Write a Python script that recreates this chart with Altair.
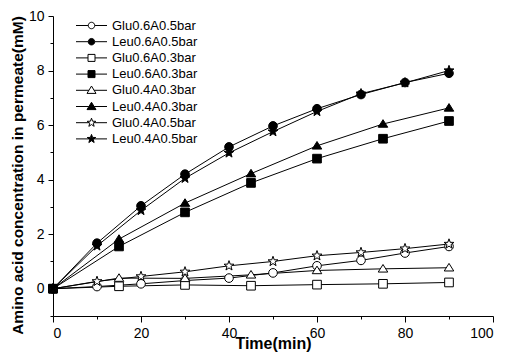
import math
import altair as alt
import pandas as pd

# ---- data ----
series_names = ["Glu0.6A0.5bar", "Leu0.6A0.5bar", "Glu0.6A0.3bar", "Leu0.6A0.3bar",
                "Glu0.4A0.3bar", "Leu0.4A0.3bar", "Glu0.4A0.5bar", "Leu0.4A0.5bar"]
time_10 = [0, 10, 20, 30, 40, 50, 60, 70, 80, 90]
time_15 = [0, 15, 30, 45, 60, 75, 90]

glu06_05 = [0, 0.08, 0.18, 0.30, 0.39, 0.58, 0.84, 1.04, 1.31, 1.55]
leu06_05 = [0, 1.67, 3.04, 4.20, 5.20, 5.97, 6.60, 7.12, 7.56, 7.90]
glu06_03 = [0, 0.09, 0.14, 0.11, 0.15, 0.18, 0.23]
leu06_03 = [0, 1.55, 2.80, 3.88, 4.77, 5.50, 6.15]
glu04_03 = [0, 0.39, 0.38, 0.51, 0.67, 0.73, 0.77]
leu04_03 = [0, 1.82, 3.14, 4.22, 5.24, 6.04, 6.63]
glu04_05 = [0, 0.27, 0.45, 0.62, 0.84, 1.00, 1.21, 1.33, 1.47, 1.64]
leu04_05 = [0, 1.57, 2.87, 4.05, 4.98, 5.76, 6.50, 7.15, 7.55, 8.00]

series_values = [glu06_05, leu06_05, glu06_03, leu06_03, glu04_03, leu04_03, glu04_05, leu04_05]
series_times = [time_10, time_10, time_15, time_15, time_15, time_15, time_10, time_10]

rows = []
for name, xs, ys in zip(series_names, series_times, series_values):
    for xv, yv in zip(xs, ys):
        rows.append({"series": name, "time": xv, "conc": yv})
df = pd.DataFrame(rows)

FONT = "Liberation Sans"


def star_path(ro, ri):
    pts = []
    for k in range(10):
        a = math.radians(-90 + 36 * k)
        r = ro if k % 2 == 0 else ri
        pts.append(f"{r*math.cos(a):.3f},{r*math.sin(a):.3f}")
    return "M" + "L".join(pts) + "Z"


def with_line(marker, gap):
    return f"M-3.1,0H{-gap}M{gap},0H3.1" + marker


star_plot = star_path(1.2, 0.48)
tri_plot = "M0,-1.0L1.1,0.75L-1.1,0.75Z"
plot_shapes = ["circle", "circle", "square", "square", tri_plot, tri_plot, star_plot, star_plot]
fills = ["white", "black"] * 4
strokes = ["black"] * 8

circ = "M0.65,0A0.65,0.65,0,1,1,-0.65,0A0.65,0.65,0,1,1,0.65,0Z"
sq = "M-0.7,-0.7H0.7V0.7H-0.7Z"
tri = "M0,-0.85L0.9,0.62L-0.9,0.62Z"
st = star_path(0.9, 0.37)
legend_shapes = [with_line(circ, 0.65), with_line(circ, 0.65),
                 with_line(sq, 0.7), with_line(sq, 0.7),
                 with_line(tri, 0.52), with_line(tri, 0.52),
                 with_line(st, 0.42), with_line(st, 0.42)]

x_scale = alt.Scale(domain=[0, 100], nice=False)
y_scale = alt.Scale(domain=[-1, 10], nice=False, zero=False)

main_x_axis = alt.Axis(values=[0, 20, 40, 60, 80, 100], title="Time(min)", grid=False,
                       tickSize=6, labelPadding=4, titleY=19, titleFontSize=16)
main_y_axis = alt.Axis(values=[0, 2, 4, 6, 8, 10], title="Amino acid concentration in permeate(mM)",
                       grid=False, tickSize=5, labelPadding=4, titleX=-28, titleY=159,
                       titleFontSize=15.5)

lines = alt.Chart(df).mark_line(color="black", strokeWidth=1).encode(
    x=alt.X("time:Q", scale=x_scale, axis=main_x_axis),
    y=alt.Y("conc:Q", scale=y_scale, axis=main_y_axis),
    detail="series:N",
    order="time:Q",
)

points = alt.Chart(df).mark_point(filled=True, size=75, stroke="black", strokeWidth=1, opacity=1).encode(
    x=alt.X("time:Q", scale=x_scale, axis=None),
    y=alt.Y("conc:Q", scale=y_scale, axis=None),
    shape=alt.Shape("series:N", scale=alt.Scale(domain=series_names, range=plot_shapes), legend=None),
    fill=alt.Fill("series:N", scale=alt.Scale(domain=series_names, range=fills), legend=None),
)

leg = alt.Legend(orient="none", legendX=32, legendY=3, title=None, labelFont=FONT, labelFontSize=13,
                 labelColor="black", labelOffset=14, symbolSize=100, symbolStrokeWidth=1,
                 rowPadding=2.2, padding=0)

legend_layer = alt.Chart(df).transform_filter("false").mark_point(
    filled=False, size=100, strokeWidth=1, opacity=1).encode(
    x=alt.X("time:Q", scale=x_scale, axis=None),
    y=alt.Y("conc:Q", scale=y_scale, axis=None),
    shape=alt.Shape("series:N", scale=alt.Scale(domain=series_names, range=legend_shapes), legend=leg),
    fill=alt.Fill("series:N", scale=alt.Scale(domain=series_names, range=fills), legend=leg),
    stroke=alt.Stroke("series:N", scale=alt.Scale(domain=series_names, range=strokes), legend=leg),
)

minor = alt.Chart(df).mark_point(opacity=0).encode(
    x=alt.X("time:Q", scale=x_scale,
            axis=alt.Axis(orient="bottom", values=[10, 30, 50, 70, 90], tickSize=3, labels=False,
                          domain=False, grid=False, title=None)),
    y=alt.Y("conc:Q", scale=y_scale,
            axis=alt.Axis(orient="left", values=[-1, 1, 3, 5, 7, 9], tickSize=3, labels=False,
                          domain=False, grid=False, title=None)),
)

chart = alt.layer(lines, points, legend_layer, minor).resolve_scale(
    shape="independent", fill="independent", stroke="independent"
).resolve_axis(x="independent", y="independent").properties(
    width=440, height=300,
    autosize=alt.AutoSizeParams(type="none"),
    padding={"left": 45, "top": 8, "right": 4, "bottom": 36},
).configure_view(stroke=None).configure_axis(
    labelFont=FONT, labelFontSize=14, labelColor="black", domainColor="black", tickColor="black",
    titleFont=FONT, titleFontWeight="bold", titleColor="black",
    domainWidth=1, tickWidth=1,
)

chart.save("out.html", embed_options={"renderer": "svg", "actions": False})
